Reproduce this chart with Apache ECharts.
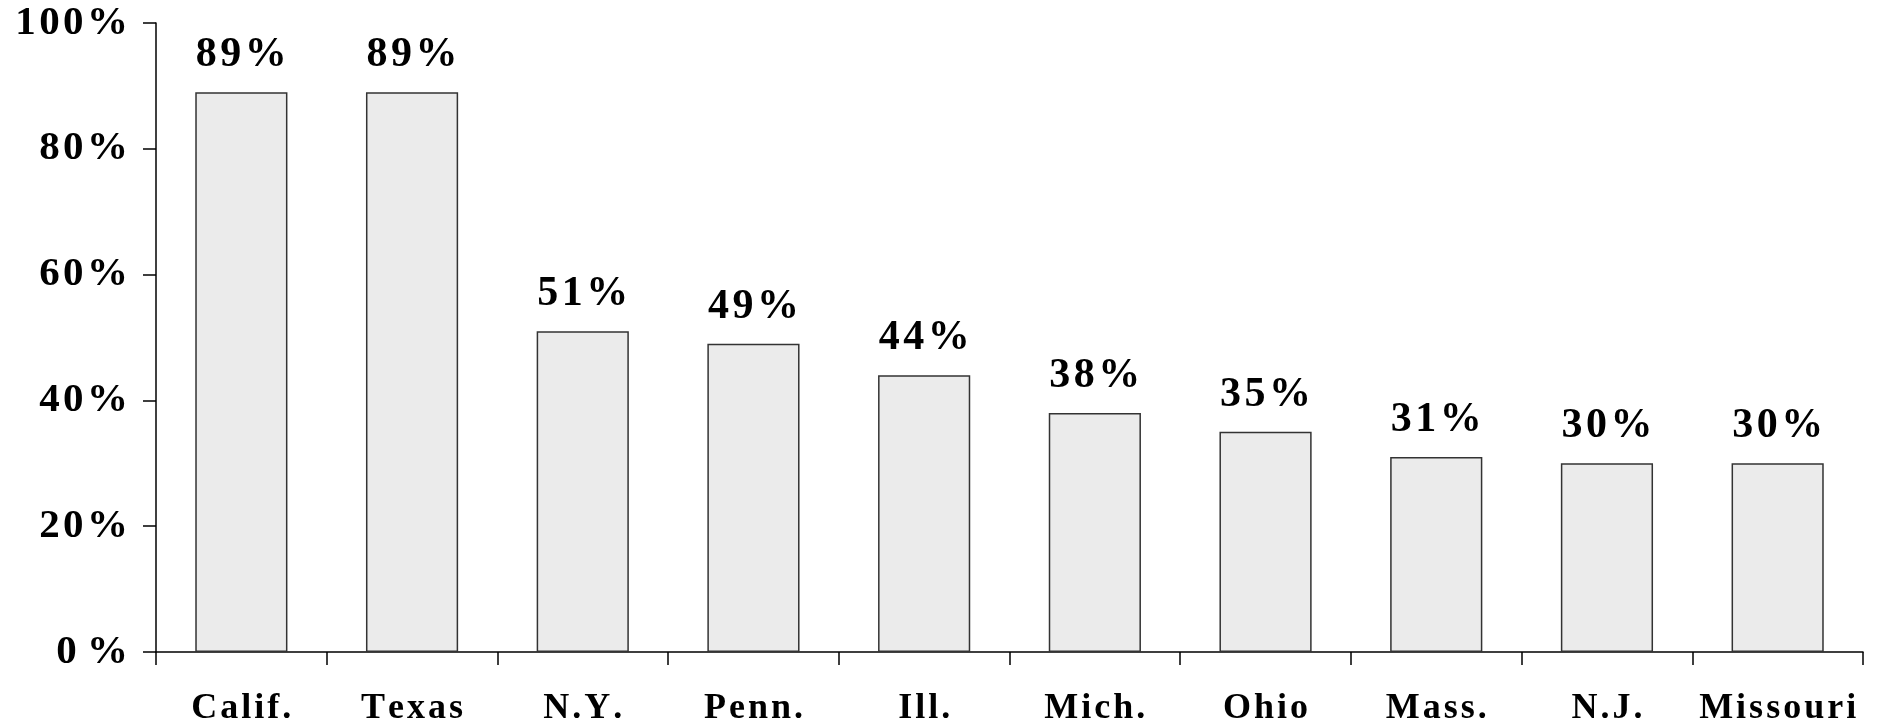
<!DOCTYPE html>
<html>
<head>
<meta charset="utf-8">
<script src="https://cdn.jsdelivr.net/npm/echarts@6/dist/echarts.min.js"></script>
<style>
  html, body { margin: 0; padding: 0; background: #fff; }
  #chart { width: 1890px; height: 727px; }
</style>
</head>
<body>
<div id="chart"></div>
<script>
// states and share values (percent)
const states = ['Calif.', 'Texas', 'N.Y.', 'Penn.', 'Ill.', 'Mich.', 'Ohio', 'Mass.', 'N.J.', 'Missouri']
const shares = [89, 89, 51, 49, 44, 38, 35, 31, 30, 30]
const yTicks = [0, 20, 40, 60, 80, 100]

const chart = echarts.init(document.getElementById('chart'))
const serif = '"Liberation Serif", "Times New Roman", serif'

// canvas has no letter-spacing, so pad glyphs with thin/hair spaces
const spaced = (s, sep) => s.split('').join(sep)
const THIN = '\u2009'
const HAIR = '\u200A'

const option = {
  animation: false,
  grid: {
    left: 156,
    right: 27,
    top: 23,
    bottom: 72
  },
  xAxis: {
    type: 'category',
    data: states,
    axisLine: { lineStyle: { color: '#000', width: 1.5 } },
    axisTick: { show: true, length: 13, lineStyle: { color: '#000', width: 1.5 } },
    axisLabel: {
      interval: 0,
      margin: 39,
      color: '#000',
      fontFamily: serif,
      fontWeight: 'bold',
      fontSize: 36,
      formatter: v => spaced(v, HAIR)
    }
  },
  yAxis: {
    type: 'value',
    min: 0,
    max: 100,
    interval: 20,
    splitLine: { show: false },
    axisLine: { show: true, lineStyle: { color: '#000', width: 1.5 } },
    axisTick: { show: true, length: 13, lineStyle: { color: '#000', width: 1.5 } },
    axisLabel: {
      margin: 28,
      color: '#000',
      fontFamily: serif,
      fontWeight: 'bold',
      fontSize: 41,
      formatter: v => yTicks.includes(v) ? (v === 0 ? '0 %' : spaced(v + '%', HAIR)) : ''
    }
  },
  series: [{
    type: 'bar',
    data: shares,
    barWidth: '54%',
    itemStyle: {
      color: '#ebebeb',
      borderColor: '#333',
      borderWidth: 1.5
    },
    label: {
      show: true,
      position: 'top',
      distance: 16,
      color: '#000',
      fontFamily: serif,
      fontWeight: 'bold',
      fontSize: 42,
      formatter: p => spaced(p.value + '%', HAIR)
    }
  }]
}

chart.setOption(option)
</script>
</body>
</html>
